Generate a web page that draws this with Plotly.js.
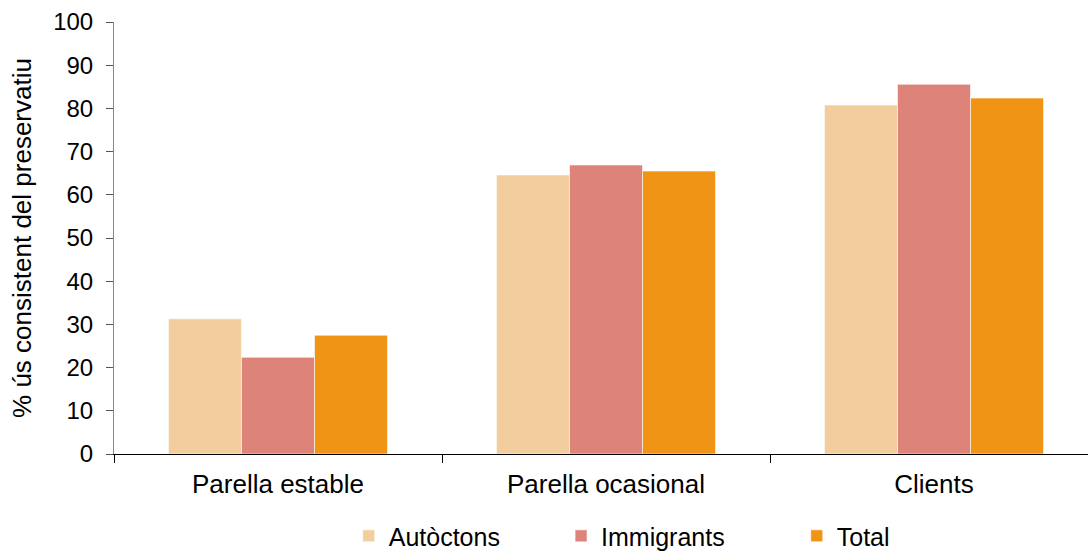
<!DOCTYPE html>
<html><head><meta charset="utf-8">
<script src="https://cdn.plot.ly/plotly-3.0.1.min.js"></script>
<style>html,body{margin:0;padding:0;overflow:hidden;background:#fff}</style>
</head><body><div id="chart" style="width:1088px;height:552px"></div>
<script>
const categories = ["Parella estable", "Parella ocasional", "Clients"];
const seriesNames = ["Autòctons", "Immigrants", "Total"];
const autoctons = [31.3, 64.6, 80.8];
const immigrants = [22.4, 66.9, 85.6];
const total = [27.5, 65.5, 82.4];
const colors = ["#F2CE9F", "#DD837A", "#F09416"];
const values = [autoctons, immigrants, total];
const legendIds = ["legend", "legend2", "legend3"];
const legendX = [0.241, 0.459, 0.701];

const traces = values.map((v, i) => ({
  type: "bar", x: categories, y: v, name: seriesNames[i],
  marker: {color: colors[i], line: {color: "rgba(255,255,255,0.6)", width: 1}},
  legend: legendIds[i], hoverinfo: "skip"
}));

const fam = "Liberation Sans, Arial, sans-serif";
const bigFont = {family: fam, size: 26, color: "#000"};
const legFont = {family: fam, size: 25, color: "#000"};
const tickFont = {family: fam, size: 24, color: "#000"};
const layout = {
  width: 1088, height: 552,
  margin: {l: 114, r: 0, t: 22, b: 98, autoexpand: false},
  paper_bgcolor: "#fff", plot_bgcolor: "#fff",
  font: bigFont,
  barmode: "group", bargap: 0.332, bargroupgap: 0,
  showlegend: true,
  xaxis: {
    type: "category", range: [-0.5, 2.4695], tickson: "boundaries", automargin: false,
    ticks: "outside", ticklen: 8, tickcolor: "#000", showline: true, linecolor: "#000",
    linewidth: 1, showgrid: false, zeroline: false, tickfont: bigFont, ticklabelstandoff: 7
  },
  yaxis: {
    range: [0, 100], dtick: 10, ticks: "outside", ticklen: 7, tickcolor: "#555", automargin: false,
    showline: true, linecolor: "#888", linewidth: 1, showgrid: false, zeroline: false,
    tickfont: tickFont, ticklabelstandoff: 8,
    title: {text: "% ús consistent del preservatiu", font: bigFont, standoff: 14}
  }
};
legendIds.forEach((id, i) => {
  layout[id] = {x: legendX[i], y: -0.19, xanchor: "left", yanchor: "middle",
    orientation: "h", font: legFont, bgcolor: "rgba(0,0,0,0)", itemwidth: 30};
});
Plotly.newPlot("chart", traces, layout, {displayModeBar: false, staticPlot: true});
</script></body></html>
